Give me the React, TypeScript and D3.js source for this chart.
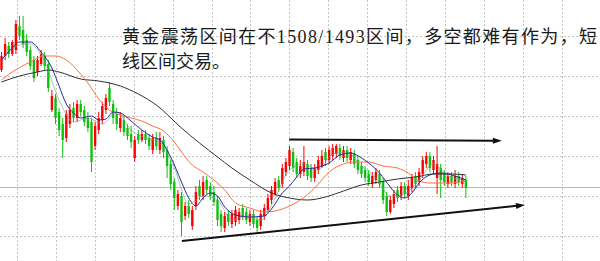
import React from 'react';
import * as d3 from 'd3';

// Candles (price units)
const OPEN = [1526.5,1530,1532.5,1530.5,1531.5,1537.5,1536.5,1534,1531.5,1529,1526,1528,1530,1528,1516.5,1519.5,1516,1513,1509.5,1513,1517,1514.5,1518,1516.5,1514.5,1513.5,1507.5,1511.5,1514,1516.5,1522,1518,1515.5,1512,1514,1512,1510.5,1504.5,1510.5,1509,1510.5,1509.5,1506.5,1509.5,1506.5,1509,1506.5,1503,1498.5,1492.5,1495,1490,1492.5,1487.5,1492.5,1497.5,1495,1499,1497.5,1496,1494,1490.5,1487,1490.5,1488,1488.5,1489,1492,1491,1488.5,1490.5,1489,1487.5,1490,1491.5,1494,1495.5,1499,1498,1501,1502.5,1506,1503.5,1500.5,1501,1503,1502,1499.5,1501.5,1502.5,1506,1504,1505,1505.5,1507,1504.5,1506.5,1504,1505.5,1504,1502.5,1501.5,1500.5,1498,1499,1500.5,1498.5,1495,1491,1493,1496.5,1495,1497.5,1495,1497,1500,1498.5,1500.5,1503,1505,1501.5,1499.5,1502,1500.5,1498,1500,1498,1500,1498,1499];
const CLOSE = [1530,1533,1530.5,1533.5,1538,1535,1533,1531,1527.5,1524.5,1529,1530.5,1527.5,1522,1520,1514.5,1511.5,1509,1515.5,1516.5,1514.5,1518,1516,1513.5,1512,1503.5,1512.5,1514.5,1517.5,1519.5,1518.5,1514.5,1513,1514.5,1511,1510,1508.5,1509,1509,1510.5,1509,1507.5,1509.5,1507.5,1509.5,1506,1502.5,1498,1494.5,1495.5,1488.5,1492.5,1490.5,1491.5,1496,1495,1498.5,1496.5,1495,1493.5,1489,1487.5,1490,1488.5,1490.5,1491.5,1491,1490,1489,1490.5,1488,1487,1490.5,1492,1494.5,1496.5,1498.5,1497,1502,1503.5,1506.5,1502,1500.5,1502.5,1503.5,1500,1499.5,1502,1504,1505,1504,1506.5,1507,1507.5,1505,1506.5,1504.5,1506,1503,1501.5,1500.5,1499.5,1498.5,1500,1501,1498,1494,1491,1494,1495.5,1494.5,1497.5,1495.5,1497.5,1499.5,1498,1501,1504,1505,1502,1504,1503,1499,1498.5,1500,1498.5,1500,1498.5,1499.5,1497];
const HIGH = [1531,1534.5,1533.5,1534,1539,1540,1540,1535.5,1532.5,1530,1530,1531.5,1531,1529,1521.5,1520.5,1517,1514.5,1516.5,1518,1518.5,1519,1519,1517.5,1516,1514.5,1513.5,1516,1518.5,1520.5,1523.5,1519,1517,1516,1515,1513,1512.5,1510,1511.5,1511.5,1511.5,1510.5,1510.5,1511,1511,1510,1507.5,1504,1499.5,1496.5,1496,1493.5,1494,1492.5,1497.5,1499,1500,1500,1498.5,1497.5,1495,1491.5,1491,1491.5,1491.5,1492.5,1492,1493,1492,1491.5,1491.5,1490,1491.5,1493,1495.5,1497.5,1499.5,1500,1503,1504.5,1507.5,1507,1504.5,1504,1507.5,1504,1503,1503,1505,1506.5,1507,1507.5,1508,1508,1508,1507.5,1507.5,1507,1506.5,1505,1503.5,1502.5,1501.5,1501,1502,1501.5,1499.5,1496,1495,1496.5,1497.5,1498.5,1498.5,1499,1500.5,1501,1502,1505,1506,1506,1505,1507.5,1503,1501.5,1501,1501,1501.5,1501,1500.5,1500];
const LOW = [1526,1529,1529.5,1530,1530.5,1534,1532,1530,1526.5,1523.5,1525,1527.5,1526.5,1521,1516,1513,1510,1504.5,1508.5,1512,1513.5,1513.5,1515,1512.5,1511,1501,1506.5,1510.5,1513,1515.5,1517.5,1513,1511.5,1511,1510,1509,1507,1503.5,1508,1508.5,1508,1506.5,1505.5,1506.5,1505.5,1504.5,1499.5,1496.5,1491.5,1491.5,1485,1489,1489.5,1486.5,1491.5,1494,1494,1495.5,1494,1492.5,1487.5,1486,1486,1487.5,1487,1487.5,1488,1489,1488,1487.5,1487,1485.5,1486.5,1489,1491,1493,1495,1496,1497,1500,1501.5,1501,1499.5,1499.5,1500,1499,1498.5,1498.5,1500.5,1502,1502.5,1503,1504,1504.5,1504,1503.5,1503.5,1503,1502,1500.5,1499.5,1498.5,1497.5,1497,1498,1497,1493,1490,1490.5,1492,1493.5,1494,1494.5,1494,1496,1497,1497.5,1499.5,1502,1501,1500.5,1495.5,1494.5,1497.5,1497,1497.5,1497,1497.5,1497,1494.5];

// Moving averages, read at candle indices
const MA_LONG_IDX = [0,5,10,13,16,22,27,33,38,43,50,55,60,64,69,75,80,85,90,95,100,105,110,115,120,125,129];
const MA_LONG = [1523.5,1525,1526,1526.5,1526,1524.25,1523.75,1522.5,1520.5,1517.75,1512,1508.25,1504.75,1502,1499,1495.75,1494.5,1494,1494.75,1496.25,1497.75,1498.5,1499.25,1499.75,1500.5,1500.5,1500.25];
const MA_MID_IDX = [0,3,8,12,15,18,22,24,27,30,33,36,39,42,45,48,50,53,56,59,62,65,69,73,76,80,83,87,91,95,98,102,106,110,113,116,119,124,129];
const MA_MID = [1524,1526,1528.5,1530,1530,1529,1525.5,1523.25,1519.25,1516.5,1515.25,1514.5,1513.75,1512.5,1511.25,1508.5,1506,1502.75,1501,1499,1496.5,1493.25,1492,1491,1491.25,1492.5,1494,1497,1501,1503,1503.5,1503.5,1502.5,1502,1500.75,1498.75,1498.25,1498.25,1498.75];
const MA_SHORT_IDX = [0,3,5,8,11,14,16,18,20,22,25,27,29,31,33,36,39,42,44,47,50,52,54,56,58,60,62,65,69,73,75,78,80,82,84,87,91,94,97,100,102,105,108,110,112,114,116,119,122,125,129];
const MA_SHORT = [1529,1532,1533.5,1533.5,1531,1527,1522.5,1518,1515.75,1514.5,1515,1514,1514.25,1516,1515.75,1513.75,1511.5,1509.75,1509,1504.75,1498.5,1494.5,1492.5,1494.5,1495.75,1495,1492.25,1490.25,1489.75,1490,1491.75,1495.75,1497.5,1499.75,1501.75,1502,1503.25,1505.25,1505.75,1504.5,1503.25,1500.75,1497.25,1495.25,1494.5,1495.75,1498.25,1500.25,1500.75,1500.25,1499];
const MA_FAST_IDX = [0,4,8,12,16,20,24,28,32,36,40,44,48,52,56,60,64,68,72,76,80,84,88,92,96,100,104,108,112,116,120,124,128,129];
const MA_FAST = [1529,1532.5,1533,1528.5,1519,1513.5,1514.5,1513,1516,1511.5,1509.5,1508.5,1502,1493,1495,1494,1489,1490,1489,1494.5,1501.5,1503,1501.5,1505.5,1506,1502.5,1499.5,1495,1495.5,1499,1503,1500,1499,1498.75];

const GRID_PRICES = [1535, 1525, 1515, 1505, 1495, 1485];
const LAST_PRICE = 1497.3;
const ARROWS: { from: [number, number]; to: [number, number] }[] = [
  { from: [79.9, 1509.1], to: [139.0, 1508.8] },
  { from: [50.1, 1483.75], to: [145.4, 1492.75] },
];
const TEXT_LINES = ['黄金震荡区间在不1508/1493区间，多空都难有作为，短', '线区间交易。'];

const UP = '#ff0000';
const DOWN = '#10c010';

export default function App() {
  const W = 600, H = 261;
  const x = d3.scaleLinear().domain([0, 129]).range([1.5, 465.9]);
  const y = d3.scaleLinear().domain([1544, 1479]).range([0, 260]);
  const bw = 2.4;

  const mkLine = (idx: number[], vals: number[]) =>
    d3.line<number>().x((_, i) => x(idx[i])).y(d => y(d)).curve(d3.curveMonotoneX)(vals) || '';

  const vGrid = d3.range(15).map(k => Math.round(17 + 38.9 * k) + 0.5);

  const arrowEls = ARROWS.map((a, k) => {
    const x1 = x(a.from[0]), y1 = y(a.from[1]);
    const x2 = x(a.to[0]), y2 = y(a.to[1]);
    const ang = Math.atan2(y2 - y1, x2 - x1);
    const L = 9, Wd = 3;
    const bx = x2 - L * Math.cos(ang), by = y2 - L * Math.sin(ang);
    const px = -Math.sin(ang) * Wd, py = Math.cos(ang) * Wd;
    const pts = `${x2},${y2} ${bx + px},${by + py} ${bx - px},${by - py}`;
    return (
      <g key={k}>
        <line x1={x1} y1={y1} x2={bx + Math.cos(ang)} y2={by + Math.sin(ang)} stroke="#111" strokeWidth={2} />
        <polygon points={pts} fill="#111" />
      </g>
    );
  });

  return (
    <svg width={W} height={H} style={{ position: 'absolute', left: 0, top: 0, background: '#fff' }}>
      <rect x={0} y={0} width={W} height={H} fill="#fff" />
      {vGrid.map((gx, i) => (
        <line key={'v' + i} x1={gx} x2={gx} y1={0} y2={H} stroke="#c4c4c4" strokeDasharray="2,2" />
      ))}
      {GRID_PRICES.map((p, i) => (
        <line key={'h' + i} x1={0} x2={W} y1={Math.round(y(p)) + 0.5} y2={Math.round(y(p)) + 0.5} stroke="#c4c4c4" strokeDasharray="2,2" />
      ))}
      <line x1={0} x2={W} y1={Math.round(y(LAST_PRICE)) + 0.5} y2={Math.round(y(LAST_PRICE)) + 0.5} stroke="#b8b8b8" />
      {OPEN.map((o, i) => {
        const c = CLOSE[i];
        const up = c >= o;
        const col = up ? UP : DOWN;
        const cx = x(i);
        const top = y(Math.max(o, c));
        const h = Math.max(1, Math.abs(y(o) - y(c)));
        return (
          <g key={'c' + i}>
            <line x1={cx} x2={cx} y1={y(HIGH[i])} y2={y(LOW[i])} stroke={col} strokeWidth={1} />
            <rect x={cx - bw / 2} y={top} width={bw} height={h} fill={col} />
          </g>
        );
      })}
      <path d={mkLine(MA_LONG_IDX, MA_LONG)} fill="none" stroke="#303030" strokeWidth={1} />
      <path d={mkLine(MA_MID_IDX, MA_MID)} fill="none" stroke="#ff7040" strokeWidth={1} />
      <path d={mkLine(MA_FAST_IDX, MA_FAST)} fill="none" stroke="#6aa88a" strokeWidth={0.8} opacity={0.8} />
      <path d={mkLine(MA_SHORT_IDX, MA_SHORT)} fill="none" stroke="#2a2a9c" strokeWidth={1} />
      {arrowEls}
      <text x={122} y={43} fontSize={18} fill="#1a1a1a" fontFamily="'Liberation Serif', 'Noto Sans CJK SC', serif" textLength={475} lengthAdjust="spacing">{TEXT_LINES[0]}</text>
      <text x={122} y={68} fontSize={18} fill="#1a1a1a" fontFamily="'Liberation Serif', 'Noto Sans CJK SC', serif">{TEXT_LINES[1]}</text>
    </svg>
  );
}
